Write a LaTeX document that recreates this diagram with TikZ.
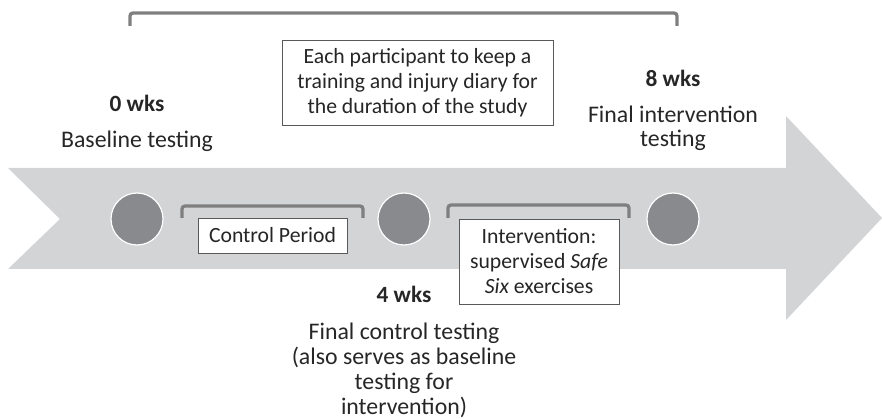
\documentclass[tikz,border=0pt]{standalone}
\usepackage{fontspec}
\setmainfont{Carlito}
\definecolor{bandgray}{HTML}{D3D4D6}
\definecolor{dotgray}{HTML}{898A8D}
\definecolor{brkgray}{HTML}{7F7F7F}
\definecolor{boxgray}{HTML}{595959}
\definecolor{txt}{HTML}{262626}
\begin{document}
\begin{tikzpicture}[x=1pt,y=-1pt,
  dot/.style={circle, fill=dotgray, draw=white, line width=1.2pt, minimum size=52pt, inner sep=0pt},
  brk/.style={draw=brkgray, line width=3.3pt, rounded corners=3pt},
  lbl/.style={font=\fontsize{23.8}{24.7}\selectfont, align=center, text=txt, inner sep=0pt, anchor=base},
  wk/.style={font=\fontsize{23.3}{24}\selectfont\bfseries, text=txt, inner sep=0pt, anchor=base},
  tbox/.style={draw=boxgray, line width=0.8pt, fill=white, font=\fontsize{21.7}{25}\selectfont, align=center, text=txt, inner sep=0pt}]
\useasboundingbox (0,0) rectangle (882,419);
% arrow band
\fill[bandgray] (8,168) -- (786,168) -- (786,116) -- (882,218) -- (786,320) -- (786,269) -- (8,269) -- (60,219) -- cycle;
% brackets
\draw[brk] (130,26) -- (130,13) -- (677,13) -- (677,26);
\draw[brk] (182,218) -- (182,206) -- (363,206) -- (363,218);
\draw[brk] (448,218) -- (448,205) -- (629,205) -- (629,218);
% milestones
\node[dot] (c0) at (137,219) {};
\node[dot] (c4) at (404,219) {};
\node[dot] (c8) at (673,219) {};
% boxes
\node[tbox, minimum width=271pt, minimum height=85pt] (diary) at (417.5,82.5)
  {Each participant to keep a\\training and injury diary for\\the duration of the study};
\node[tbox, minimum width=149pt, minimum height=35pt] (ctrl) at (272.5,235.5) {Control Period};
\node[tbox, minimum width=160pt, minimum height=85pt] (intv) at (539,261.5)
  {Intervention:\\supervised \textit{Safe}\\\textit{Six} exercises};
% labels
\node[wk] (w0) at (137,112) {0 wks};
\node[lbl] (l0) at (137,148) {Baseline testing};
\node[wk] (w8) at (673,87) {8 wks};
\node[lbl] (l8) at (673,147) {Final intervention\\testing};
\node[wk] (w4) at (404,302) {4 wks};
\node[lbl] (l4) at (404,414) {Final control testing\\(also serves as baseline\\testing for\\intervention)};
\end{tikzpicture}
\end{document}
